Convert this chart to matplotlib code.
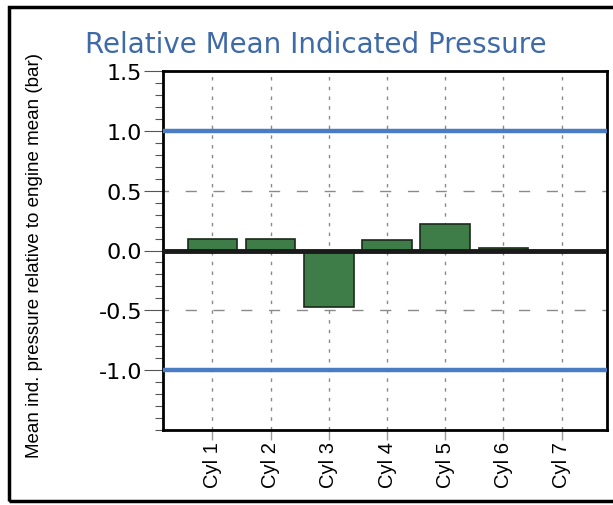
import matplotlib.pyplot as plt
from matplotlib.patches import Rectangle
from matplotlib.ticker import MultipleLocator

# data
cylinders = ["Cyl 1", "Cyl 2", "Cyl 3", "Cyl 4", "Cyl 5", "Cyl 6", "Cyl 7"]
rel_pressure = [0.10, 0.10, -0.47, 0.09, 0.225, 0.02, 0.0]
limits = [1.0, -1.0]
ytick_vals = [-1.0, -0.5, 0.0, 0.5, 1.0, 1.5]
ytick_labels = ["-1.0", "-0.5", "0.0", "0.5", "1.0", "1.5"]

fig = plt.figure(figsize=(6.13, 5.06), dpi=100)
ax = fig.add_axes([163 / 613, 1 - 431 / 506, 444 / 613, 359 / 506])

# outer frame (right side runs off the picture)
fig.patches.append(Rectangle((9 / 613, 4 / 506), 1.0, 494 / 506, transform=fig.transFigure,
                             fill=False, edgecolor="black", linewidth=2.5, clip_on=False))

x = list(range(len(cylinders)))
ax.bar(x, rel_pressure, width=0.85, color="#3f7d48", edgecolor="#1a2a1a", linewidth=1.2, zorder=3)

for lim in limits:
    ax.axhline(lim, color="#4a7cc4", linewidth=3.2, zorder=4)
ax.axhline(0, color="#1a1a1a", linewidth=3.5, zorder=4)

# grid
for xi in x:
    ax.axvline(xi, color="#8a8a8a", linestyle=(0, (2.5, 4.5)), linewidth=1.0, zorder=1)
for yv in [0.5, -0.5]:
    ax.axhline(yv, color="#8a8a8a", linestyle=(4, (8, 12)), linewidth=1.0, zorder=1)

ax.set_xlim(-0.85, 6.78)
ax.set_ylim(-1.5, 1.5)
ax.yaxis.set_minor_locator(MultipleLocator(0.1))
ax.set_yticks(ytick_vals)
ax.set_yticklabels(ytick_labels, fontsize=16)
ax.tick_params(axis="y", which="major", length=14, width=0.8, pad=1, color="#555555")
ax.tick_params(axis="y", which="minor", length=6, width=0.8, color="#555555")
ax.set_xticks(x)
ax.set_xticklabels(cylinders, rotation=90, fontsize=14.5, family="Liberation Sans")
ax.tick_params(axis="x", length=7, width=1.0, color="#999999", pad=1)

for side in ["left", "bottom", "right", "top"]:
    ax.spines[side].set_linewidth(2)

ax.set_ylabel("Mean ind. pressure relative to engine mean (bar)", fontsize=13.5,
              family="Liberation Sans")
ax.yaxis.set_label_coords(-0.27, 0.49)

fig.text(316 / 613, 1 - 45 / 506, "Relative Mean Indicated Pressure", color="#3f6aa8",
         fontsize=20, ha="center", va="center")

plt.savefig("out.png", dpi=100)
